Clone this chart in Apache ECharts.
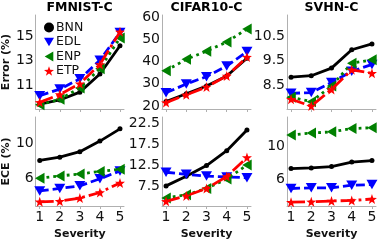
<!DOCTYPE html>
<html><head><meta charset="utf-8">
<script src="https://cdn.jsdelivr.net/npm/echarts@6/dist/echarts.min.js"></script>
<style>html,body{margin:0;padding:0;background:#fff}#c{width:381px;height:241px}</style>
</head><body><div id="c"></div>
<script>
// ---- data ----
var severity = [1, 2, 3, 4, 5];
var methods = ['BNN', 'EDL', 'ENP', 'ETP'];
var datasets = ['FMNIST-C', 'CIFAR10-C', 'SVHN-C'];

var fmnistErrBNN = [9.4, 9.75, 10.4, 11.9, 14.25];
var fmnistErrEDL = [10.1, 10.65, 11.5, 13.05, 15.35];
var fmnistErrENP = [9.35, 9.8, 10.75, 12.35, 14.9];
var fmnistErrETP = [9.55, 10.2, 11.1, 12.7, 15.4];

var cifarErrBNN = [22, 25.5, 29, 33.5, 41.5];
var cifarErrEDL = [25.9, 29.9, 33.2, 38, 44.5];
var cifarErrENP = [35.9, 41, 44.7, 48.8, 54.7];
var cifarErrETP = [21.5, 25, 28.5, 33.5, 42];

var svhnErrBNN = [8.82, 8.88, 9.19, 9.94, 10.18];
var svhnErrEDL = [8.16, 8.19, 8.6, 9.06, 9.34];
var svhnErrENP = [8.0, 7.82, 8.46, 9.39, 9.53];
var svhnErrETP = [7.92, 7.64, 8.32, 9.12, 8.98];

var fmnistEceBNN = [8.1, 8.47, 9.1, 10.3, 11.7];
var fmnistEceEDL = [4.62, 4.9, 5.2, 6.0, 6.9];
var fmnistEceENP = [6.07, 6.33, 6.55, 6.84, 7.09];
var fmnistEceETP = [3.38, 3.45, 3.8, 4.44, 5.53];

var cifarEceBNN = [7.57, 9.84, 12.4, 15.9, 20.8];
var cifarEceEDL = [10.8, 10.3, 9.9, 9.7, 9.5];
var cifarEceENP = [4.7, 5.45, 6.95, 9.2, 12.5];
var cifarEceETP = [3.9, 5.2, 6.95, 9.8, 14.3];

var svhnEceBNN = [7.36, 7.44, 7.6, 8.14, 8.33];
var svhnEceEDL = [4.95, 5.03, 5.03, 5.35, 5.42];
var svhnEceENP = [11.43, 11.66, 11.8, 12.2, 12.3];
var svhnEceETP = [3.29, 3.33, 3.44, 3.5, 3.67];

var yTicksErr = [[11, 13, 15], [20, 30, 40, 50, 60], [8.5, 9.5, 10.5]];
var yTicksEce = [[6, 10], [7.5, 12.5, 17.5, 22.5], [6, 10]];
var yRangeErr = [[9, 16.8], [18.6, 61], [7.52, 11.36]];
var yRangeEce = [[2.9, 13.05], [2.8, 23.9], [2.83, 13.6]];

var panels = [
  [fmnistErrBNN, fmnistErrEDL, fmnistErrENP, fmnistErrETP],
  [cifarErrBNN, cifarErrEDL, cifarErrENP, cifarErrETP],
  [svhnErrBNN, svhnErrEDL, svhnErrENP, svhnErrETP],
  [fmnistEceBNN, fmnistEceEDL, fmnistEceENP, fmnistEceETP],
  [cifarEceBNN, cifarEceEDL, cifarEceENP, cifarEceETP],
  [svhnEceBNN, svhnEceEDL, svhnEceENP, svhnEceETP]
];

// ---- styles ----
var FONT = 'DejaVu Sans';
var colors = ['#000000', '#0000ff', '#008000', '#ff0000'];
var STAR = 'path://M0,-10L2.35,-3.24L9.51,-3.09L3.8,1.24L5.88,8.09L0,4L-5.88,8.09L-3.8,1.24L-9.51,-3.09L-2.35,-3.24Z';
var TRI_DOWN = 'path://M0,0L10,0L5,8.66Z';
var TRI_LEFT = 'path://M0,5L8.66,0L8.66,10Z';
var symbols = ['circle', TRI_DOWN, TRI_LEFT, STAR];
var symSizes = [5, [11, 9.5], [9.5, 11], 10];
var dashTypes = ['solid', [9, 4], [2.8, 4], [14, 4, 2.8, 4]];

var colLeft = [35, 162, 287];
var colW = 89;
var rowTop = [15, 117];
var rowH = [94, 93];

var grids = [], xAxes = [], yAxes = [], series = [], titles = [];
for (var p = 0; p < 6; p++) {
  var r = Math.floor(p / 3), c = p % 3;
  grids.push({left: colLeft[c], top: rowTop[r], width: colW, height: rowH[r], containLabel: false});
  xAxes.push({
    gridIndex: p, type: 'value', min: 0.8, max: 5.2,
    name: r === 1 ? 'Severity' : '', nameLocation: 'middle', nameGap: 23,
    nameTextStyle: {fontFamily: FONT, fontWeight: 'bold', fontSize: 11, color: '#111'},
    axisLine: {show: true, lineStyle: {color: '#b0b0b0', width: 1}},
    axisTick: {show: true, length: 3, customValues: severity, lineStyle: {color: '#b0b0b0'}},
    axisLabel: {show: r === 1, customValues: severity, margin: 4, fontFamily: FONT, fontSize: 14, color: '#111'},
    splitLine: {show: false}
  });
  var rng = r === 0 ? yRangeErr[c] : yRangeEce[c];
  var tks = r === 0 ? yTicksErr[c] : yTicksEce[c];
  yAxes.push({
    gridIndex: p, type: 'value', min: rng[0], max: rng[1],
    name: c === 0 ? (r === 0 ? 'Error (%)' : 'ECE (%)') : '', nameLocation: 'middle', nameGap: 20,
    nameTextStyle: {fontFamily: FONT, fontWeight: 'bold', fontSize: 11, color: '#111'},
    axisLine: {show: true, lineStyle: {color: '#b0b0b0', width: 1}},
    axisTick: {show: false},
    axisLabel: {customValues: tks, margin: 2, fontFamily: FONT, fontSize: 14, color: '#111'},
    splitLine: {show: false}
  });
  for (var m = 0; m < 4; m++) {
    var vals = panels[p][m];
    var d = [];
    for (var i = 0; i < severity.length; i++) d.push([severity[i], vals[i]]);
    series.push({
      name: methods[m], type: 'line', xAxisIndex: p, yAxisIndex: p, data: d,
      symbol: symbols[m], symbolSize: symSizes[m], showSymbol: true,
      itemStyle: {color: colors[m]},
      lineStyle: {color: colors[m], width: 2.8, type: dashTypes[m], cap: 'butt'},
      z: 2 + m, silent: true
    });
  }
}
for (var k = 0; k < 3; k++) {
  titles.push({text: datasets[k], left: colLeft[k] + colW / 2, top: 1, textAlign: 'center', padding: 0,
    textStyle: {fontFamily: FONT, fontWeight: 'bold', fontSize: 12.5, color: '#000'}});
}

var chart = echarts.init(document.getElementById('c'), null, {renderer: 'canvas'});
chart.setOption({
  animation: false,
  backgroundColor: '#fff',
  title: titles,
  legend: {
    orient: 'vertical', left: 44, top: 21, padding: 0, itemGap: 1.5,
    itemWidth: 10, itemHeight: 10,
    data: [
      {name: 'BNN', icon: 'circle'},
      {name: 'EDL', icon: TRI_DOWN},
      {name: 'ENP', icon: TRI_LEFT},
      {name: 'ETP', icon: STAR}
    ],
    textStyle: {fontFamily: FONT, fontSize: 12.5, lineHeight: 12, color: '#111', padding: [0, 0, 0, -3]}
  },
  grid: grids, xAxis: xAxes, yAxis: yAxes, series: series
});
</script></body></html>
